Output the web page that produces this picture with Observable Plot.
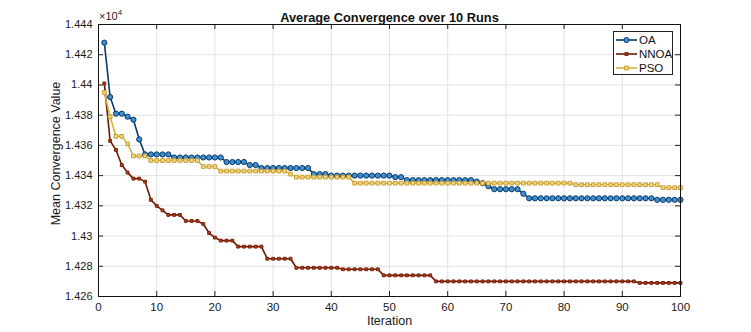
<!DOCTYPE html>
<html>
<head>
<meta charset="utf-8">
<script src="https://cdn.jsdelivr.net/npm/d3@7"></script>
<script src="https://cdn.jsdelivr.net/npm/@observablehq/plot@0.6"></script>
<style>
  html, body { margin: 0; padding: 0; background: white; }
  #wrap { position: relative; width: 751px; height: 332px; font-family: "Liberation Sans", Arial, sans-serif; }
  #exp { position: absolute; left: 99px; top: 8px; font-size: 11px; color: #262626; }
  #exp sup { font-size: 8px; }
  #legend { position: absolute; left: 613px; top: 31px; }
</style>
</head>
<body>
<div id="wrap"></div>
<script>
const title = "Average Convergence over 10 Runs";
const xLabel = "Iteration";
const yLabel = "Mean Convergence Value";
const seriesNames = ["OA", "NNOA", "PSO"];
const xTicks = [0, 10, 20, 30, 40, 50, 60, 70, 80, 90, 100];
const yTicks = [14260, 14280, 14300, 14320, 14340, 14360, 14380, 14400, 14420, 14440];

const iterations = d3.range(1, 101);

const oaValues = [
  14428,14392,14381,14381,14379,14377,14364,14354,14354,14354,
  14354,14354,14352,14352,14352,14352,14352,14352,14352,14352,
  14352,14349,14349,14349,14349,14347,14347,14345,14345,14345,
  14345,14345,14345,14345,14345,14345,14341,14341,14341,14340,
  14340,14340,14340,14340,14340,14340,14340,14340,14340,14340,
  14339,14339,14337,14337,14337,14337,14337,14337,14337,14337,
  14337,14337,14337,14337,14336,14335,14333,14331,14331,14331,
  14331,14331,14328,14325,14325,14325,14325,14325,14325,14325,
  14325,14325,14325,14325,14325,14325,14325,14325,14325,14325,
  14325,14325,14325,14325,14325,14324,14324,14324,14324,14324
];

const nnoaValues = [
  14401,14363,14357,14347,14342,14338,14338,14336,14324,14320,
  14317,14314,14314,14314,14310,14310,14310,14308,14302,14299,
  14297,14297,14297,14293,14293,14293,14293,14293,14285,14285,
  14285,14285,14285,14279,14279,14279,14279,14279,14279,14279,
  14279,14278,14278,14278,14278,14278,14278,14278,14274,14274,
  14274,14274,14274,14274,14274,14274,14274,14270,14270,14270,
  14270,14270,14270,14270,14270,14270,14270,14270,14270,14270,
  14270,14270,14270,14270,14270,14270,14270,14270,14270,14270,
  14270,14270,14270,14270,14270,14270,14270,14270,14270,14270,
  14270,14270,14269,14269,14269,14269,14269,14269,14269,14269
];

const psoValues = [
  14395,14379,14366,14366,14361,14353,14353,14353,14350,14350,
  14350,14350,14350,14350,14350,14350,14350,14346,14346,14346,
  14343,14343,14343,14343,14343,14343,14343,14343,14343,14343,
  14343,14343,14341,14339,14339,14339,14339,14339,14339,14339,
  14339,14339,14339,14335,14335,14335,14335,14335,14335,14335,
  14335,14335,14335,14335,14335,14335,14335,14335,14335,14335,
  14335,14335,14335,14335,14335,14335,14335,14335,14335,14335,
  14335,14335,14335,14335,14335,14335,14335,14335,14335,14335,
  14335,14334,14334,14334,14334,14334,14334,14334,14334,14334,
  14334,14334,14334,14334,14334,14334,14332,14332,14332,14332
];

const styles = {
  OA:   {line: "#0a3a68", mstroke: "#0a3a68", mfill: "#3f8fd2", symbol: "circle", r: 2.6},
  NNOA: {line: "#6b1a06", mstroke: "#7a2008", mfill: "#b0401e", symbol: "square", r: 1.6},
  PSO:  {line: "#d8b03c", mstroke: "#c9a136", mfill: "#f1d483", symbol: "square", r: 2.1}
};

const valueSets = {OA: oaValues, NNOA: nnoaValues, PSO: psoValues};
const rows = seriesNames.map(name => iterations.map((it, i) => ({series: name, iter: it, value: valueSets[name][i]})));

const W = 751, H = 332, mL = 98, mR = 71, mT = 24, mB = 36;
const fw = W - mL - mR, fh = H - mT - mB;
const gridColor = "#e2e2e2";

const marks = [
  Plot.gridX(xTicks, {stroke: gridColor, strokeOpacity: 1}),
  Plot.gridY(yTicks, {stroke: gridColor, strokeOpacity: 1}),
  // inward ticks on all four sides
  Plot.tickX(xTicks, {x: d => d, insetTop: fh - 5, stroke: "#222"}),
  Plot.tickX(xTicks, {x: d => d, insetBottom: fh - 5, stroke: "#222"}),
  Plot.tickY(yTicks, {y: d => d, insetRight: fw - 5, stroke: "#222"}),
  Plot.tickY(yTicks, {y: d => d, insetLeft: fw - 5, stroke: "#222"}),
  Plot.axisX(xTicks, {tickSize: 0, tickPadding: 6, fontSize: 11.5, label: null, fill: "#1a1a1a"}),
  Plot.axisY(yTicks, {tickSize: 0, tickPadding: 6, fontSize: 11, tickFormat: d => String(+(d / 10000).toFixed(3)), label: null, fill: "#1a1a1a"}),
  Plot.text([xLabel], {frameAnchor: "bottom", dy: 28, fontSize: 12.5, fill: "#1a1a1a"}),
  Plot.text([yLabel], {frameAnchor: "left", textAnchor: "middle", dx: -43, dy: -7, rotate: -90, fontSize: 12.5, fill: "#1a1a1a"})
];

for (let k = 0; k < seriesNames.length; k++) {
  const name = seriesNames[k];
  const s = styles[name];
  marks.push(Plot.line(rows[k], {x: "iter", y: "value", stroke: s.line, strokeWidth: 1.6}));
}
for (let k = 0; k < seriesNames.length; k++) {
  const name = seriesNames[k];
  const s = styles[name];
  marks.push(Plot.dot(rows[k], {x: "iter", y: "value", symbol: s.symbol, r: s.r, stroke: s.mstroke, fill: s.mfill, strokeWidth: 1}));
}
marks.push(Plot.frame({stroke: "#111", strokeWidth: 1}));
marks.push(Plot.text([title], {frameAnchor: "top", dy: -12, fontWeight: "bold", fontSize: 12.8, fill: "#111"}));

const chart = Plot.plot({
  width: W, height: H,
  marginLeft: mL, marginRight: mR, marginTop: mT, marginBottom: mB,
  style: {fontFamily: "'Liberation Sans', Arial, sans-serif", fontSize: "11px", background: "white", color: "#1a1a1a", overflow: "visible"},
  x: {domain: [0, 100]},
  y: {domain: [14260, 14440]},
  marks
});

const wrap = document.getElementById("wrap");
wrap.appendChild(chart);

const exp = document.createElement("div");
exp.id = "exp";
exp.innerHTML = "&times;10<sup>4</sup>";
wrap.appendChild(exp);

// legend
const lw = 60, lh = 44;
const ns = "http://www.w3.org/2000/svg";
const leg = document.createElementNS(ns, "svg");
leg.setAttribute("id", "legend");
leg.setAttribute("width", lw);
leg.setAttribute("height", lh);
const box = document.createElementNS(ns, "rect");
box.setAttribute("x", 0.5); box.setAttribute("y", 0.5);
box.setAttribute("width", lw - 1); box.setAttribute("height", lh - 1);
box.setAttribute("fill", "white"); box.setAttribute("stroke", "#222");
leg.appendChild(box);
seriesNames.forEach((name, i) => {
  const s = styles[name];
  const cy = 9 + i * 14;
  const ln = document.createElementNS(ns, "line");
  ln.setAttribute("x1", 3); ln.setAttribute("x2", 24);
  ln.setAttribute("y1", cy); ln.setAttribute("y2", cy);
  ln.setAttribute("stroke", s.line); ln.setAttribute("stroke-width", 1.6);
  leg.appendChild(ln);
  let m;
  if (s.symbol === "circle") {
    m = document.createElementNS(ns, "circle");
    m.setAttribute("cx", 13.5); m.setAttribute("cy", cy); m.setAttribute("r", s.r);
  } else {
    const side = s.r * 1.77;
    m = document.createElementNS(ns, "rect");
    m.setAttribute("x", 13.5 - side / 2); m.setAttribute("y", cy - side / 2);
    m.setAttribute("width", side); m.setAttribute("height", side);
  }
  m.setAttribute("fill", s.mfill); m.setAttribute("stroke", s.mstroke);
  leg.appendChild(m);
  const t = document.createElementNS(ns, "text");
  t.setAttribute("x", 26); t.setAttribute("y", cy + 4);
  t.setAttribute("font-size", "11.5px");
  t.setAttribute("font-family", "'Liberation Sans', Arial, sans-serif");
  t.setAttribute("fill", "#111");
  t.textContent = name;
  leg.appendChild(t);
});
wrap.appendChild(leg);
</script>
</body>
</html>
